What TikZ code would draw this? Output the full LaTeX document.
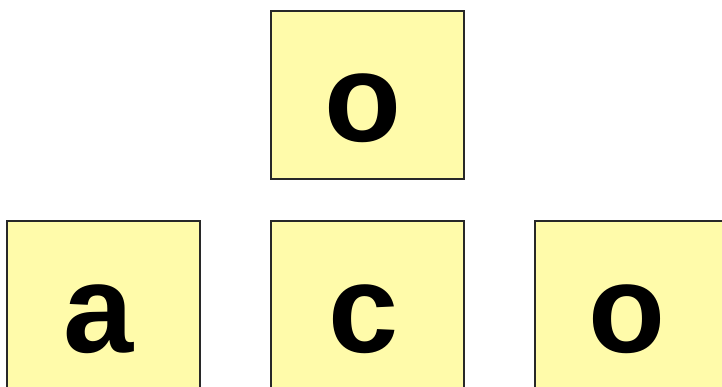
\documentclass[tikz,border=0pt]{standalone}
\usepackage{fontspec}
\setmainfont{Liberation Sans}
\definecolor{boxfill}{RGB}{255,251,170}
\definecolor{boxline}{RGB}{40,40,40}
\begin{document}
\begin{tikzpicture}[x=1pt,y=1pt,
  letterbox/.style={draw=boxline,line width=1.8pt,fill=boxfill,rectangle,
    minimum width=192.7pt,minimum height=168pt,inner sep=0pt},
  letter/.style={anchor=base,inner sep=0pt,font=\fontsize{126}{132}\selectfont\bfseries}]
\useasboundingbox (0,0) rectangle (722,386);
\clip (0,0) rectangle (722,386);
\node[letterbox] (top) at (367.7,291.3) {};
\node[letterbox] (left) at (103.3,80.7) {};
\node[letterbox] (mid) at (367.7,80.7) {};
\node[letterbox] (right) at (631.7,80.7) {};
\node[letter] (ltop) at (362.7,244) {o};
\node[letter] (lleft) at (98.3,34) {a};
\node[letter] (lmid) at (363.7,34) {c};
\node[letter] (lright) at (626.7,34) {o};
\end{tikzpicture}
\end{document}
